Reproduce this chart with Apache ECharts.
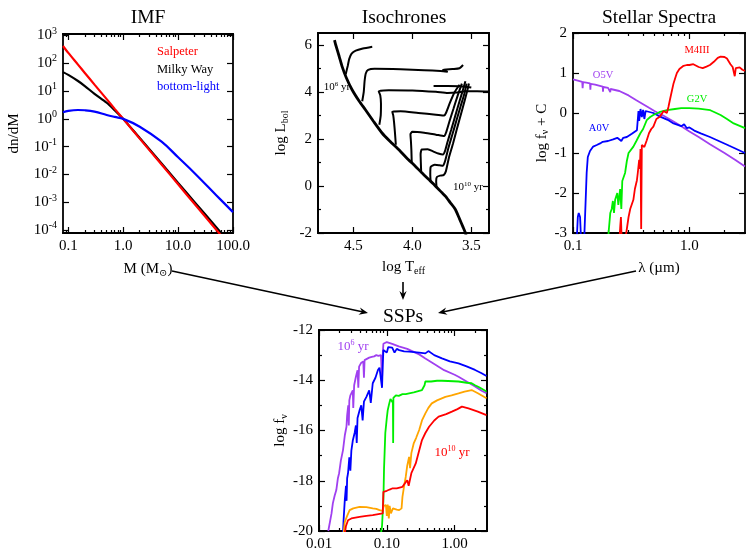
<!DOCTYPE html>
<html><head><meta charset="utf-8">
<script src="https://cdn.jsdelivr.net/npm/echarts@6/dist/echarts.min.js"></script>
<style>html,body{margin:0;padding:0;background:#fff}#c{width:755px;height:554px}</style>
</head><body><div id="c"></div>
<script>
var SERIF = '"Liberation Serif","DejaVu Serif",serif';

// ---------- IMF panel (mass in Msun, log10 dn/dM) ----------
var imfMass        = [0.08, 0.1, 0.15, 0.2, 0.3, 0.5, 0.7, 1, 2, 5, 10, 20, 50, 100];
var imfSalpeter    = [2.62, 2.37, 1.95, 1.65, 1.23, 0.71, 0.36, 0, -0.71, -1.64, -2.35, -3.06, -3.99, -4.7];
var imfMilkyWay    = [1.68, 1.58, 1.36, 1.18, 0.9, 0.58, 0.31, 0, -0.69, -1.6, -2.3, -2.99, -3.9, -4.6];
var imfBottomLight = [0.24, 0.29, 0.32, 0.31, 0.26, 0.14, 0.07, 0, -0.28, -0.82, -1.38, -1.95, -2.75, -3.35];

// ---------- Isochrones panel ([log Teff, log Lbol]) ----------
var isoMS = [[4.66,6.2],[4.65,6.0],[4.62,5.5],[4.596,5.08],[4.56,4.6],[4.511,4.09],[4.45,3.6],[4.398,3.24],[4.33,2.75],[4.257,2.25],[4.19,1.9],[4.116,1.55],[4.05,1.2],[3.975,0.84],[3.92,0.56],[3.862,0.28],[3.82,0.08],[3.79,-0.08],[3.75,-0.28],[3.72,-0.43],[3.68,-0.7],[3.635,-1.0],[3.60,-1.4],[3.57,-1.75],[3.551,-1.98],[3.545,-2.1]];
var iso65 = [[4.565,4.75],[4.548,5.1],[4.535,5.4],[4.515,5.62],[4.48,5.75],[4.42,5.84],[4.34,5.92]];
var iso70 = [[4.425,3.6],[4.412,4.0],[4.405,4.45],[4.395,4.78],[4.375,4.93],[4.32,4.98],[4.1,4.96],[3.9,4.92],[3.76,4.88],[3.70,4.85],[3.74,4.94],[3.66,4.97],[3.60,5.0],[3.57,5.14]];
var iso75 = [[4.28,2.6],[4.268,3.0],[4.266,3.5],[4.272,3.85],[4.285,4.02],[4.2,4.07],[4.0,4.06],[3.8,4.0],[3.7,3.95],[3.62,3.97],[3.55,4.02],[3.45,4.02],[3.35,4.01]];
var iso80 = [[4.14,1.75],[4.148,2.3],[4.155,2.7],[4.162,3.0],[4.17,3.15],[4.1,3.17],[3.95,3.1],[3.80,3.03],[3.73,2.99],[3.715,3.1],[3.68,3.55],[3.64,4.0],[3.60,4.3]];
var iso85 = [[4.005,0.95],[4.008,1.5],[4.012,1.9],[4.016,2.2],[4.0,2.3],[3.9,2.26],[3.80,2.18],[3.73,2.12],[3.712,2.3],[3.685,2.75],[3.65,3.3],[3.615,3.85],[3.58,4.35]];
var iso90 = [[3.925,0.58],[3.928,1.0],[3.93,1.35],[3.92,1.55],[3.87,1.56],[3.82,1.46],[3.78,1.38],[3.74,1.34],[3.722,1.5],[3.70,1.9],[3.67,2.4],[3.635,3.0],[3.60,3.6],[3.57,4.1],[3.55,4.45]];
var iso95 = [[3.845,0.18],[3.848,0.5],[3.845,0.8],[3.81,0.9],[3.77,0.88],[3.74,0.86],[3.72,1.1],[3.695,1.6],[3.66,2.2],[3.625,2.8],[3.59,3.4],[3.56,3.9],[3.54,4.35]];
var iso100 = [[3.795,-0.05],[3.798,0.2],[3.792,0.38],[3.765,0.44],[3.735,0.46],[3.716,0.62],[3.69,1.2],[3.655,1.8],[3.618,2.5],[3.585,3.1],[3.555,3.65],[3.532,4.1],[3.52,4.35]];
var isoLoop = [[3.82,4.25],[3.70,4.25],[3.60,4.24],[3.55,4.22],[3.50,4.18]];

// ---------- Stellar spectra ([lambda um, log f_nu + C]) ----------
var specO5V = [[0.1,0.84],[0.11,0.81],[0.12,0.78],[0.121,0.62],[0.122,0.77],[0.13,0.76],[0.14,0.74],[0.141,0.58],[0.142,0.73],[0.155,0.71],[0.17,0.68],[0.18,0.66],[0.181,0.53],[0.182,0.65],[0.2,0.63],[0.208,0.61],[0.209,0.52],[0.21,0.6],[0.25,0.55],[0.3,0.44],[0.35,0.32],[0.4,0.22],[0.45,0.13],[0.5,0.05],[0.6,-0.07],[0.7,-0.18],[0.8,-0.28],[1.0,-0.46],[1.2,-0.6],[1.5,-0.78],[2.0,-1.0],[2.5,-1.18],[3.0,-1.34]];
var specA0V = [[0.108,-3.1],[0.11,-2.6],[0.112,-2.5],[0.115,-2.6],[0.117,-3.1],[0.125,-3.1],[0.128,-2.3],[0.131,-1.5],[0.134,-1.1],[0.14,-0.95],[0.149,-0.84],[0.16,-0.8],[0.171,-0.76],[0.18,-0.72],[0.2,-0.7],[0.221,-0.66],[0.24,-0.62],[0.26,-0.7],[0.27,-0.62],[0.29,-0.6],[0.32,-0.52],[0.354,-0.43],[0.36,-0.38],[0.365,0.05],[0.37,-0.2],[0.38,0.1],[0.39,-0.1],[0.40,0.08],[0.41,-0.15],[0.42,0.05],[0.43,0.03],[0.49,0.0],[0.56,-0.09],[0.65,-0.17],[0.73,-0.26],[0.85,-0.33],[0.9,-0.28],[0.95,-0.38],[1.0,-0.36],[1.1,-0.44],[1.25,-0.51],[1.5,-0.6],[1.73,-0.68],[2.2,-0.82],[3.0,-1.0]];
var specG2V = [[0.2,-3.2],[0.202,-3.0],[0.209,-2.5],[0.215,-2.4],[0.22,-2.2],[0.225,-2.5],[0.23,-2.17],[0.24,-2.0],[0.245,-2.3],[0.254,-1.9],[0.26,-2.4],[0.265,-1.7],[0.28,-1.5],[0.29,-1.2],[0.30,-1.0],[0.31,-0.95],[0.33,-0.84],[0.35,-0.7],[0.38,-0.5],[0.40,-0.4],[0.43,-0.18],[0.46,-0.1],[0.49,-0.05],[0.55,0.02],[0.64,0.07],[0.75,0.1],[0.85,0.12],[1.0,0.12],[1.2,0.11],[1.51,0.07],[1.7,0.0],[1.85,-0.05],[2.1,-0.15],[2.4,-0.26],[3.0,-0.38]];
var specM4III = [[0.25,-3.2],[0.255,-2.8],[0.258,-2.6],[0.262,-3.2],[0.28,-3.2],[0.29,-2.9],[0.30,-2.6],[0.31,-2.4],[0.33,-2.17],[0.34,-1.9],[0.354,-1.68],[0.36,-1.5],[0.37,-1.17],[0.375,-1.4],[0.38,-0.9],[0.385,-2.9],[0.39,-0.8],[0.41,-0.85],[0.43,-0.68],[0.45,-0.5],[0.47,-0.4],[0.49,-0.34],[0.52,-0.15],[0.56,-0.09],[0.6,0.05],[0.64,0.0],[0.66,0.15],[0.68,0.33],[0.7,0.5],[0.73,0.74],[0.76,0.9],[0.78,1.0],[0.82,1.1],[0.89,1.18],[0.95,1.2],[1.0,1.2],[1.08,1.22],[1.2,1.15],[1.3,1.12],[1.4,1.16],[1.5,1.2],[1.62,1.28],[1.75,1.38],[1.85,1.41],[2.0,1.4],[2.1,1.36],[2.25,1.22],[2.35,1.15],[2.4,1.16],[2.45,0.92],[2.5,1.12],[2.7,1.14],[2.85,1.08],[3.0,1.05]];

// ---------- SSP spectra ([lambda um, log f_nu]) ----------
var ssp1e6 = [[0.0137,-20.0],[0.0153,-19.3],[0.016,-18.9],[0.017,-18.6],[0.018,-18.37],[0.019,-17.9],[0.0198,-17.7],[0.021,-17.2],[0.0226,-16.78],[0.024,-16.2],[0.0254,-15.85],[0.026,-15.4],[0.027,-15.0],[0.0275,-15.8],[0.028,-14.8],[0.029,-14.6],[0.0315,-14.4],[0.032,-15.1],[0.033,-14.2],[0.035,-13.86],[0.037,-13.6],[0.038,-14.3],[0.039,-13.46],[0.042,-13.3],[0.045,-13.25],[0.046,-13.9],[0.047,-13.2],[0.0496,-13.2],[0.055,-13.1],[0.06,-13.07],[0.065,-13.05],[0.07,-13.0],[0.075,-13.03],[0.082,-13.0],[0.085,-14.0],[0.087,-13.0],[0.089,-12.55],[0.095,-12.5],[0.1,-12.48],[0.12,-12.55],[0.15,-12.65],[0.2,-12.75],[0.3,-12.97],[0.37,-13.13],[0.5,-13.35],[0.7,-13.6],[1.0,-13.78],[1.14,-13.86],[1.5,-14.05],[2.0,-14.25],[2.5,-14.42],[2.95,-14.52]];
var ssp1e7 = [[0.0226,-20.1],[0.023,-19.6],[0.024,-18.77],[0.025,-18.2],[0.0255,-18.8],[0.026,-17.9],[0.0268,-17.7],[0.028,-17.07],[0.029,-17.6],[0.03,-16.8],[0.0315,-16.4],[0.0335,-16.1],[0.035,-15.8],[0.036,-16.5],[0.037,-15.5],[0.0396,-15.2],[0.042,-15.0],[0.044,-15.6],[0.046,-14.85],[0.05,-14.66],[0.055,-14.4],[0.058,-14.9],[0.062,-14.12],[0.068,-13.9],[0.074,-13.59],[0.078,-13.5],[0.082,-13.46],[0.085,-14.3],[0.087,-13.4],[0.089,-12.8],[0.095,-12.75],[0.1,-12.9],[0.105,-12.68],[0.109,-12.66],[0.12,-12.7],[0.13,-12.9],[0.14,-12.75],[0.152,-12.8],[0.18,-12.85],[0.213,-12.86],[0.3,-12.9],[0.37,-12.93],[0.41,-12.84],[0.5,-13.0],[0.65,-13.13],[0.85,-13.25],[1.14,-13.33],[1.5,-13.45],[2.0,-13.59],[2.5,-13.72],[2.95,-13.83]];
var ssp1e8 = [[0.082,-20.1],[0.085,-19.8],[0.088,-19.0],[0.089,-18.8],[0.091,-17.5],[0.093,-16.8],[0.095,-16.1],[0.1,-15.5],[0.103,-15.2],[0.108,-14.95],[0.113,-14.75],[0.12,-14.7],[0.123,-14.9],[0.124,-16.5],[0.125,-14.7],[0.13,-14.65],[0.136,-14.6],[0.15,-14.62],[0.17,-14.55],[0.19,-14.55],[0.213,-14.52],[0.25,-14.48],[0.3,-14.42],[0.33,-14.39],[0.36,-14.2],[0.37,-14.05],[0.45,-14.05],[0.55,-14.02],[0.65,-14.02],[0.8,-14.03],[1.14,-14.05],[1.5,-14.1],[1.78,-14.12],[2.0,-14.2],[2.3,-14.28],[2.95,-14.45]];
var ssp1e9 = [[0.023,-20.1],[0.024,-19.64],[0.026,-19.4],[0.0283,-19.17],[0.032,-19.1],[0.0396,-19.04],[0.05,-19.05],[0.062,-19.1],[0.07,-19.12],[0.078,-19.17],[0.087,-19.2],[0.09,-19.0],[0.097,-18.97],[0.1,-19.4],[0.103,-18.95],[0.107,-19.5],[0.11,-19.0],[0.115,-19.3],[0.123,-19.1],[0.14,-19.15],[0.152,-19.17],[0.165,-19.1],[0.17,-18.64],[0.18,-18.2],[0.19,-17.85],[0.2,-17.4],[0.213,-17.05],[0.22,-17.5],[0.23,-16.9],[0.25,-16.5],[0.27,-16.3],[0.3,-15.98],[0.33,-15.6],[0.37,-15.32],[0.41,-15.1],[0.46,-14.92],[0.55,-14.8],[0.73,-14.66],[0.9,-14.6],[1.14,-14.52],[1.4,-14.45],[1.78,-14.39],[2.2,-14.52],[2.95,-14.72]];
var ssp1e10 = [[0.024,-20.1],[0.025,-19.8],[0.0268,-19.57],[0.03,-19.5],[0.0396,-19.44],[0.05,-19.4],[0.062,-19.37],[0.075,-19.33],[0.087,-19.3],[0.089,-18.44],[0.1,-18.4],[0.11,-18.35],[0.122,-18.3],[0.14,-18.3],[0.17,-18.24],[0.185,-18.1],[0.2,-17.98],[0.21,-18.2],[0.23,-17.7],[0.267,-17.31],[0.3,-16.8],[0.33,-16.38],[0.37,-16.1],[0.42,-15.85],[0.5,-15.6],[0.58,-15.45],[0.75,-15.35],[0.91,-15.25],[1.1,-15.15],[1.28,-15.05],[1.6,-15.12],[2.2,-15.25],[2.95,-15.39]];

// ---------- tick definitions ----------
var decadeMinor = [2,3,4,5,6,7,8,9];
function logMinor(decades, lo, hi) {
  var out = [];
  decades.forEach(function (d) { decadeMinor.forEach(function (m) { var v = Math.log10(m * Math.pow(10, d)); if (v > lo && v < hi) out.push(v); }); });
  return out;
}

var xAxes = [], yAxes = [];
function addAxes(list, kind, grid, o) {
  var p1 = kind === 'x' ? 'bottom' : 'left', p2 = kind === 'x' ? 'top' : 'right';
  var idx = list.length;
  function base(pos, ticks, len) {
    return {type: 'value', gridIndex: grid, min: o.min, max: o.max, inverse: !!o.inverse, position: pos,
      splitLine: {show: false}, silent: true,
      axisLine: {show: true, onZero: false, lineStyle: {color: '#000', width: 1.8}},
      axisTick: {show: true, inside: true, length: len, customValues: ticks, lineStyle: {color: '#000', width: 1.2}},
      axisLabel: {show: false}};
  }
  var m = base(p1, o.major, 6);
  m.axisLabel = {show: true, customValues: o.major, formatter: o.fmt, fontFamily: SERIF, fontSize: 15, color: '#000',
    margin: o.margin || 6, rich: {sup: {fontFamily: SERIF, fontSize: 10, color: '#000', padding: [0, 0, 9, 0]}}};
  if (o.name) {
    m.name = o.name; m.nameLocation = 'middle'; m.nameGap = o.nameGap; m.nameRotate = kind === 'y' ? 90 : 0;
    m.nameTextStyle = {fontFamily: SERIF, fontSize: 15, color: '#000',
      rich: {sub: {fontFamily: SERIF, fontSize: 10, color: '#000', padding: [7, 0, 0, 0]}}};
  }
  list.push(m);
  if (o.minor) list.push(base(p1, o.minor, 3));
  list.push(base(p2, o.major, 6));
  if (o.minor) list.push(base(p2, o.minor, 3));
  return idx;
}
function keyFmt(map) { return function (v) { var k = Math.round(v * 10) / 10; return map[k] !== undefined ? map[k] : ''; }; }

// grid 0 IMF
var gx0 = addAxes(xAxes, 'x', 0, {min: Math.log10(0.08), max: 2, major: [-1, 0, 1, 2], minor: logMinor([-2, -1, 0, 1], Math.log10(0.08), 2),
  fmt: keyFmt({'-1': '0.1', '0': '1.0', '1': '10.0', '2': '100.0'}), name: 'M (M{sub|\u2299})', nameGap: 28});
var gy0 = addAxes(yAxes, 'y', 0, {min: -4.1, max: 3.05, major: [-4, -3, -2, -1, 0, 1, 2, 3],
  fmt: function (v) { return '10{sup|' + Math.round(v) + '}'; }, name: 'dn/dM', nameGap: 41});
// grid 1 Isochrones
var gx1 = addAxes(xAxes, 'x', 1, {min: 3.35, max: 4.8, inverse: true, major: [3.5, 4.0, 4.5],
  fmt: function (v) { return v.toFixed(1); }, name: 'log T{sub|eff}', nameGap: 26});
var gy1 = addAxes(yAxes, 'y', 1, {min: -2, max: 6.5, major: [-2, 0, 2, 4, 6], minor: [-1, 1, 3, 5],
  fmt: function (v) { return String(Math.round(v)); }, name: 'log L{sub|bol}', nameGap: 28});
// grid 2 Stellar spectra
var gx2 = addAxes(xAxes, 'x', 2, {min: -1, max: Math.log10(3), major: [-1, 0], minor: logMinor([-1, 0], -1, Math.log10(3)),
  fmt: keyFmt({'-1': '0.1', '0': '1.0'}), name: '\u03bb (\u00b5m)', nameGap: 28});
var gy2 = addAxes(yAxes, 'y', 2, {min: -3, max: 2, major: [-3, -2, -1, 0, 1, 2],
  fmt: function (v) { return String(Math.round(v)); }, name: 'log f{sub|\u03bd} + C', nameGap: 21});
// grid 3 SSPs
var gx3 = addAxes(xAxes, 'x', 3, {min: -2, max: Math.log10(3), major: [-2, -1, 0], minor: logMinor([-2, -1, 0], -2, Math.log10(3)),
  fmt: keyFmt({'-2': '0.01', '-1': '0.10', '0': '1.00'})});
var gy3 = addAxes(yAxes, 'y', 3, {min: -20, max: -12, major: [-20, -18, -16, -14, -12], minor: [-19, -17, -15, -13],
  fmt: function (v) { return String(Math.round(v)); }, name: 'log f{sub|\u03bd}', nameGap: 30});

function logx(arr) { return arr.map(function (p) { return [Math.log10(p[0]), p[1]]; }); }
function line(name, xi, yi, data, color, width, smooth, z) {
  return {type: 'line', name: name, xAxisIndex: xi, yAxisIndex: yi, data: data, showSymbol: false, symbol: 'none',
    smooth: smooth || false, clip: true, z: z || 2, silent: true,
    lineStyle: {color: color, width: width}, itemStyle: {color: color}};
}

var PURPLE = '#a040f0', BLUE = '#0000ff', GREEN = '#00ee00', RED = '#ff0000', ORANGE = '#ffa500';

var series = [
  line('Milky Way', gx0, gy0, imfMass.map(function (m, i) { return [Math.log10(m), imfMilkyWay[i]]; }), '#000', 2.2, 0.3, 2),
  line('Salpeter', gx0, gy0, imfMass.map(function (m, i) { return [Math.log10(m), imfSalpeter[i]]; }), RED, 2.2, 0.3, 3),
  line('bottom-light', gx0, gy0, imfMass.map(function (m, i) { return [Math.log10(m), imfBottomLight[i]]; }), BLUE, 2.2, 0.4, 4)
];
[['10^6 yr', isoMS, 2.8], ['10^6.5 yr', iso65, 2], ['10^7 yr', iso70, 2], ['10^7.5 yr', iso75, 2], ['10^8 yr', iso80, 2],
 ['10^8.5 yr', iso85, 2], ['10^9 yr', iso90, 2], ['10^9.5 yr', iso95, 2], ['10^10 yr', iso100, 2], ['loop', isoLoop, 2]]
  .forEach(function (s) { series.push(line(s[0], gx1, gy1, s[1], '#000', s[2], 0.2, 2)); });
series.push(line('O5V', gx2, gy2, logx(specO5V), PURPLE, 1.8));
series.push(line('A0V', gx2, gy2, logx(specA0V), BLUE, 1.8));
series.push(line('G2V', gx2, gy2, logx(specG2V), GREEN, 1.8));
series.push(line('M4III', gx2, gy2, logx(specM4III), RED, 1.8));
series.push(line('SSP 1e6', gx3, gy3, logx(ssp1e6), PURPLE, 1.8));
series.push(line('SSP 1e7', gx3, gy3, logx(ssp1e7), BLUE, 1.8));
series.push(line('SSP 1e8', gx3, gy3, logx(ssp1e8), GREEN, 1.8));
series.push(line('SSP 1e9', gx3, gy3, logx(ssp1e9), ORANGE, 1.8));
series.push(line('SSP 1e10', gx3, gy3, logx(ssp1e10), RED, 1.8));

// ---------- annotations ----------
function txt(x, y, s, size, color, rich) {
  return {type: 'text', x: x, y: y, silent: true, style: {text: s, fontFamily: SERIF, fontSize: size, fill: color || '#000',
    align: 'center', verticalAlign: 'middle', textAlign: 'center', textVerticalAlign: 'middle', rich: rich || {}}};
}
function supRich(size) { return {sup: {fontFamily: SERIF, fontSize: size, padding: [0, 0, size * 0.9, 0]}}; }
function arrow(x1, y1, x2, y2) {
  var dx = x2 - x1, dy = y2 - y1, L = Math.sqrt(dx * dx + dy * dy), ux = dx / L, uy = dy / L, h = 9, w = 3.6;
  var bx = x2 - ux * h, by = y2 - uy * h;
  return [
    {type: 'line', silent: true, shape: {x1: x1, y1: y1, x2: bx + ux * 3, y2: by + uy * 3}, style: {stroke: '#000', lineWidth: 1.6}},
    {type: 'polygon', silent: true, shape: {points: [[x2, y2], [bx - uy * w, by + ux * w], [bx + ux * 3, by + uy * 3], [bx + uy * w, by - ux * w]]}, style: {fill: '#000'}}
  ];
}
var graphics = [
  txt(148, 18, 'IMF', 19.5), txt(404, 18, 'Isochrones', 19.5), txt(659, 18, 'Stellar Spectra', 19.5), txt(403, 317, 'SSPs', 19.5),
  txt(337, 87, '10{sup|6} yr', 11, '#000', supRich(7)), txt(468, 187, '10{sup|10} yr', 11, '#000', supRich(7)),
  txt(603, 75, 'O5V', 10.5, PURPLE), txt(599, 128, 'A0V', 10.5, BLUE), txt(697, 50, 'M4III', 10.5, RED), txt(697, 99, 'G2V', 10.5, GREEN),
  txt(353, 347, '10{sup|6} yr', 13, PURPLE, supRich(8)), txt(452, 453, '10{sup|10} yr', 13, RED, supRich(8))
].concat(arrow(172, 271, 368, 313), arrow(403, 282, 403, 300), arrow(636, 271, 438, 313));

var chart = echarts.init(document.getElementById('c'), null, {renderer: 'canvas'});
chart.setOption({
  animation: false,
  backgroundColor: '#fff',
  grid: [
    {left: 63, top: 34, width: 170, height: 199, outerBoundsMode: 'none'},
    {left: 318, top: 33, width: 171, height: 200, outerBoundsMode: 'none'},
    {left: 573, top: 33, width: 172, height: 200, outerBoundsMode: 'none'},
    {left: 319, top: 330, width: 168, height: 201, outerBoundsMode: 'none'}
  ],
  legend: {show: true, orient: 'vertical', left: 146, top: 40, itemWidth: 0, itemHeight: 0, itemGap: 3.5, selectedMode: false,
    textStyle: {fontFamily: SERIF, fontSize: 12.5, lineHeight: 14},
    data: [{name: 'Salpeter', textStyle: {color: RED}}, {name: 'Milky Way', textStyle: {color: '#000'}}, {name: 'bottom-light', textStyle: {color: BLUE}}]},
  xAxis: xAxes,
  yAxis: yAxes,
  series: series,
  graphic: graphics
});
</script></body></html>
